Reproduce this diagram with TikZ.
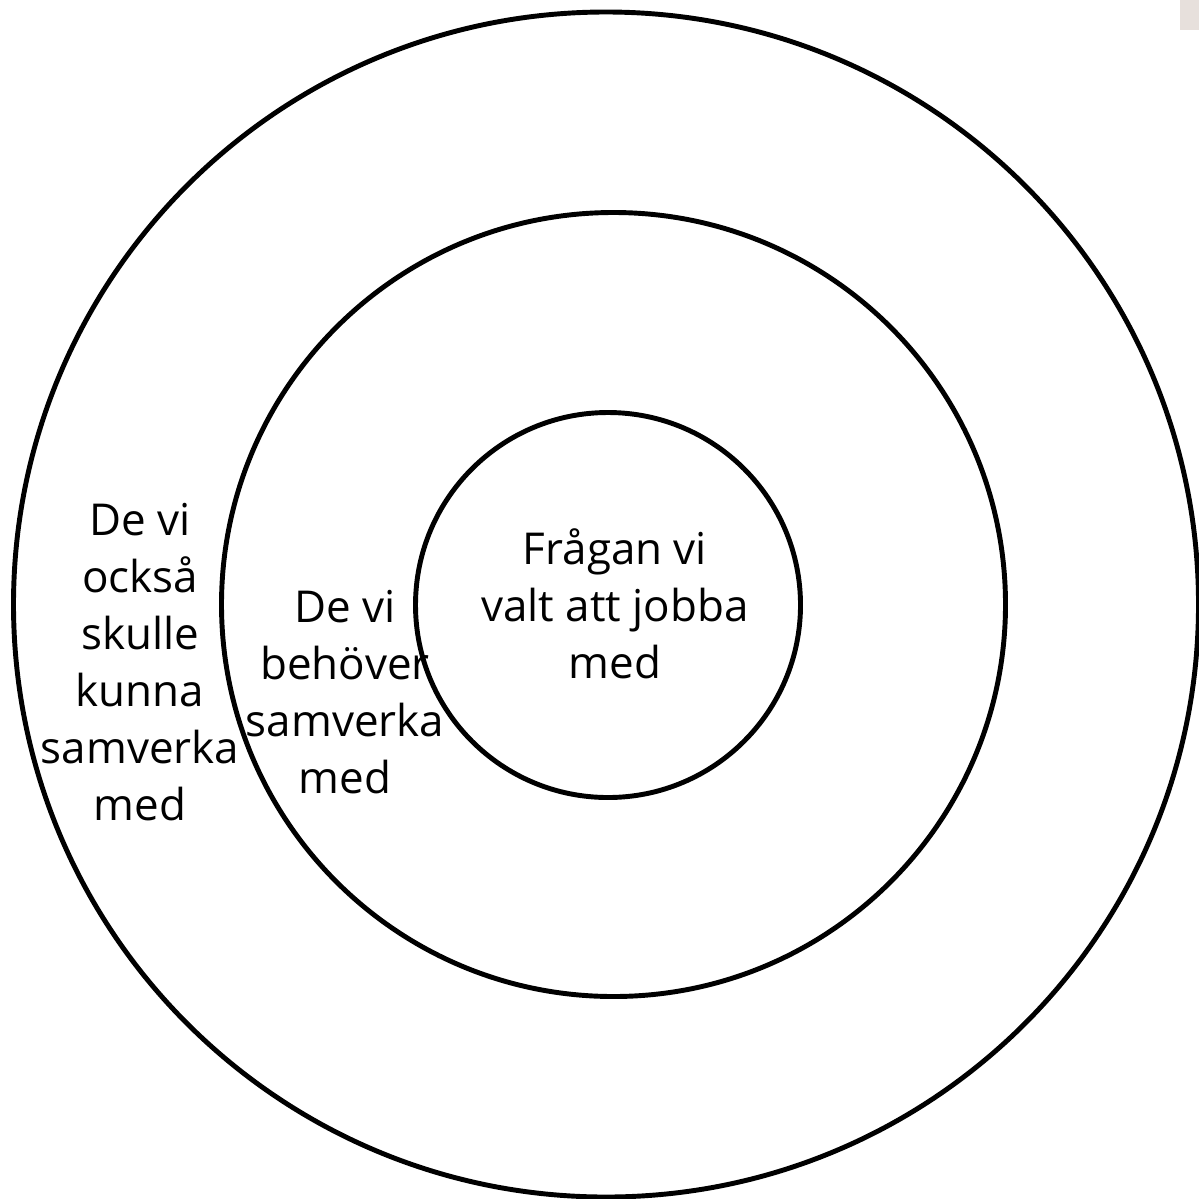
\documentclass[tikz,border=0pt]{standalone}
\usepackage{fontspec}
\setmainfont{Open Sans}
\usetikzlibrary{positioning}
\definecolor{ptab}{RGB}{231,224,220}
\tikzset{
  ring/.style={circle,draw=black,line width=1.4pt,fill=none,inner sep=0pt},
  ringtext/.style={align=center,inner sep=0pt,font=\fontsize{12.5}{16.2}\selectfont},
}
\begin{document}
\begin{tikzpicture}
  \useasboundingbox (0,0) rectangle (11.99,-11.98);
  % corner tab
  \fill[ptab] (11.80,0) rectangle (11.99,-0.30);
  % rings
  \node[ring,minimum size=11.85cm] (outer)  at (6.06,-6.045) {};
  \node[ring,minimum size=7.84cm]  (middle) at (6.135,-6.045) {};
  \node[ring,minimum size=3.85cm]  (inner)  at (6.08,-6.05) {};
  % texts
  \node[ringtext] (question) at (6.15,-6.04) {Frågan vi\\valt att jobba\\med};
  \node[ringtext] (needed)   at (3.45,-6.92) {De vi\\behöver\\samverka\\med};
  \node[ringtext] (could)    at (1.40,-6.62) {De vi\\också\\skulle\\kunna\\samverka\\med};
\end{tikzpicture}
\end{document}
